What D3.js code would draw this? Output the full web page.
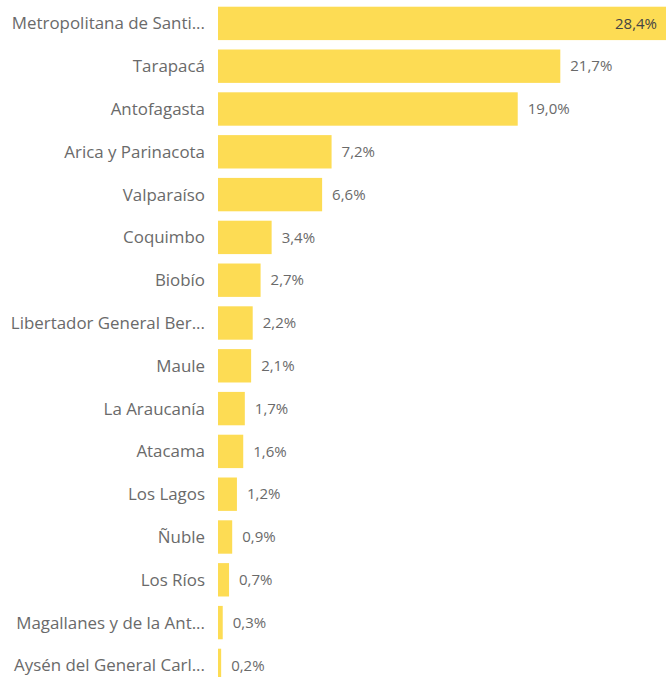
<!DOCTYPE html>
<html>
<head>
<meta charset="utf-8">
<script src="https://cdn.jsdelivr.net/npm/d3@7"></script>
<style>
  body { margin: 0; background: #fff; }
  text { font-family: "Open Sans", "Segoe UI", sans-serif; }
</style>
</head>
<body>
<script>
var regions = ["Metropolitana de Santi...", "Tarapacá", "Antofagasta", "Arica y Parinacota",
    "Valparaíso", "Coquimbo", "Biobío", "Libertador General Ber...", "Maule",
    "La Araucanía", "Atacama", "Los Lagos", "Ñuble", "Los Ríos",
    "Magallanes y de la Ant...", "Aysén del General Carl..."];
var shares = [28.4, 21.7, 19.0, 7.2, 6.6, 3.4, 2.7, 2.2, 2.1, 1.7, 1.6, 1.2, 0.9, 0.7, 0.3, 0.2];

function init(){
    var w = 670;
    var h = 677;
    var left = 218;
    var right = 666;
    var top = 2;
    var step = 42.8;

    var data = regions.map(function(r, i) { return { region: r, value: shares[i] }; });

    var xScale = d3.scaleLinear()
                   .domain([0, d3.max(shares)])
                   .range([left, right]);

    var yScale = d3.scaleBand()
                   .domain(regions)
                   .range([top, top + step * regions.length])
                   .paddingInner(0.22)
                   .paddingOuter(0.11);

    var fmt = function(v) { return v.toFixed(1).replace(".", ",") + "%"; };

    var svg = d3.select("body")
                .append("svg")
                .attr("width", w)
                .attr("height", h);

    // bars
    svg.selectAll("rect")
       .data(data)
       .enter()
       .append("rect")
       .attr("x", xScale(0))
       .attr("y", function(d) { return yScale(d.region); })
       .attr("width", function(d) { return xScale(d.value) - xScale(0); })
       .attr("height", yScale.bandwidth())
       .attr("fill", "#FDDC54");

    // category labels
    svg.selectAll("text.cat")
       .data(data)
       .enter()
       .append("text")
       .attr("class", "cat")
       .attr("x", 205)
       .attr("y", function(d) { return yScale(d.region) + yScale.bandwidth() / 2; })
       .attr("dy", "0.35em")
       .attr("text-anchor", "end")
       .attr("font-size", 16.9)
       .attr("fill", "#6a6a6a")
       .text(function(d) { return d.region; });

    // value labels
    svg.selectAll("text.val")
       .data(data)
       .enter()
       .append("text")
       .attr("class", "val")
       .attr("x", function(d, i) { return i === 0 ? xScale(d.value) - 9 : xScale(d.value) + 10; })
       .attr("y", function(d) { return yScale(d.region) + yScale.bandwidth() / 2; })
       .attr("dy", "0.35em")
       .attr("text-anchor", function(d, i) { return i === 0 ? "end" : "start"; })
       .attr("font-size", 15)
       .attr("fill", function(d, i) { return i === 0 ? "#444444" : "#6a6a6a"; })
       .text(function(d) { return fmt(d.value); });
}
window.onload = init;
</script>
</body>
</html>
